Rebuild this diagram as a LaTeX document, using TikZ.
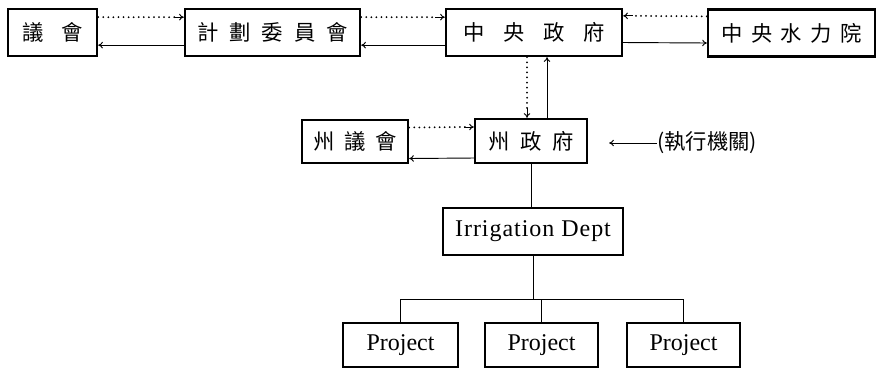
\documentclass[tikz,border=0pt]{standalone}
\usepackage{fontspec}
\newfontfamily\cjk{Noto Sans CJK TC}
\newfontfamily\latf{Liberation Serif}
\newfontfamily\latw{Liberation Serif}[LetterSpace=4]
\usetikzlibrary{arrows.meta,calc}
\begin{document}
\begin{tikzpicture}[x=0.75pt,y=-0.75pt,
  box/.style={draw,line width=1.8pt,inner sep=0pt},
  cj/.style={font=\fontsize{16}{16}\selectfont\cjk},
  lat/.style={font=\fontsize{18}{20}\selectfont\latf},
  latwide/.style={font=\fontsize{18}{20}\selectfont\latw},
  link/.style={line width=0.7pt},
  dotlink/.style={line width=1.5pt,dash pattern=on 0pt off 3.8pt,line cap=round},
  tip/.style={-{To[length=3.5pt,width=5pt]}}]
\useasboundingbox (0,0) rectangle (880,369);

% top row
\node[box,cj,minimum width=66.75pt,minimum height=35.25pt] (yihui) at (52.5,32.5) {議\hspace{13pt}會};
\node[box,cj,minimum width=131.25pt,minimum height=35.25pt] (jihua) at (272.5,32.5) {計\hspace{8.2pt}劃\hspace{8.2pt}委\hspace{8.2pt}員\hspace{8.2pt}會};
\node[box,cj,minimum width=132pt,minimum height=35.25pt] (zy) at (534,32.5) {中\hspace{14pt}央\hspace{14pt}政\hspace{14pt}府};
\node[box,cj,minimum width=125.25pt,minimum height=35.25pt] (sl) at (791.5,33) {中\hspace{6.2pt}央\hspace{6.2pt}水\hspace{6.2pt}力\hspace{6.2pt}院};

% state row
\node[box,cj,minimum width=79.5pt,minimum height=32.5pt] (zhy) at (355,141.5) {州\hspace{7.2pt}議\hspace{7.2pt}會};
\node[box,cj,minimum width=84pt,minimum height=33pt] (zhf) at (531,141) {州\hspace{8.2pt}政\hspace{8.2pt}府};
\node[cj,inner sep=0pt] (exec) at (707,143) {(執行機關)};

% departments
\node[box,latwide,minimum width=135pt,minimum height=35.25pt] (irr) at (533,231.5) {Irrigation Dept};
\node[box,lat,minimum width=86.25pt,minimum height=33pt] (p1) at (400.5,345) {Project};
\node[box,lat,minimum width=84.75pt,minimum height=33pt] (p2) at (541.5,345) {Project};
\node[box,lat,minimum width=84.75pt,minimum height=33pt] (p3) at (683.5,345) {Project};
\coordinate (bus) at (535,299);

% 議會 <-> 計劃委員會
\draw[dotlink] ([yshift=11.5pt]yihui.east) -- ([yshift=11.5pt,xshift=-6pt]jihua.west);
\draw[link,tip] ([yshift=11.5pt,xshift=-7pt]jihua.west) -- ([yshift=11.5pt]jihua.west);
\draw[link,tip] ([yshift=-9.5pt]jihua.west) -- ([yshift=-9.5pt]yihui.east);

% 計劃委員會 <-> 中央政府
\draw[dotlink] ([yshift=11.5pt]jihua.east) -- ([yshift=11.5pt,xshift=-6pt]zy.west);
\draw[link,tip] ([yshift=11.5pt,xshift=-7pt]zy.west) -- ([yshift=11.5pt]zy.west);
\draw[link,tip] ([yshift=-9.5pt]zy.west) -- ([yshift=-9.5pt]jihua.east);

% 中央水力院 <-> 中央政府
\draw[dotlink] ([yshift=12.5pt]sl.west) -- ([yshift=12.5pt,xshift=6pt]zy.east);
\draw[link,tip] ([yshift=12.5pt,xshift=7pt]zy.east) -- ([yshift=12.5pt]zy.east);
\draw[link,tip] ([yshift=-7.5pt]zy.east) -- ([yshift=-7.5pt]sl.west);

% 中央政府 <-> 州政府
\draw[dotlink] ([xshift=-5.25pt]zy.south) -- ([xshift=-5.25pt,yshift=6pt]zy.south |- zhf.north);
\draw[link,tip] ([xshift=-5.25pt,yshift=7pt]zy.south |- zhf.north) -- ([xshift=-5.25pt]zy.south |- zhf.north);
\draw[link,tip] ([xshift=9.75pt]zy.south |- zhf.north) -- ([xshift=9.75pt]zy.south);

% 州議會 <-> 州政府
\draw[dotlink] ([yshift=10.5pt]zhy.east) -- ([yshift=10.5pt,xshift=-6pt]zhf.west);
\draw[link,tip] ([yshift=10.5pt,xshift=-7pt]zhf.west) -- ([yshift=10.5pt]zhf.west);
\draw[link,tip] ([yshift=-12.75pt]zhf.west) -- ([yshift=-12.75pt]zhy.east);

% 執行機關 label
\draw[link,tip] (exec.west) -- ([xshift=15.75pt]zhf.east |- exec.west);

% hierarchy
\draw[link] (zhf.south) -- (zhf.south |- irr.north);
\draw[link] (irr.south) -- (irr.south |- bus);
\draw[link] (p1.north |- bus) -- (p3.north |- bus);
\draw[link] (p1.north |- bus) -- (p1.north);
\draw[link] (p2.north |- bus) -- (p2.north);
\draw[link] (p3.north |- bus) -- (p3.north);
\end{tikzpicture}
\end{document}
